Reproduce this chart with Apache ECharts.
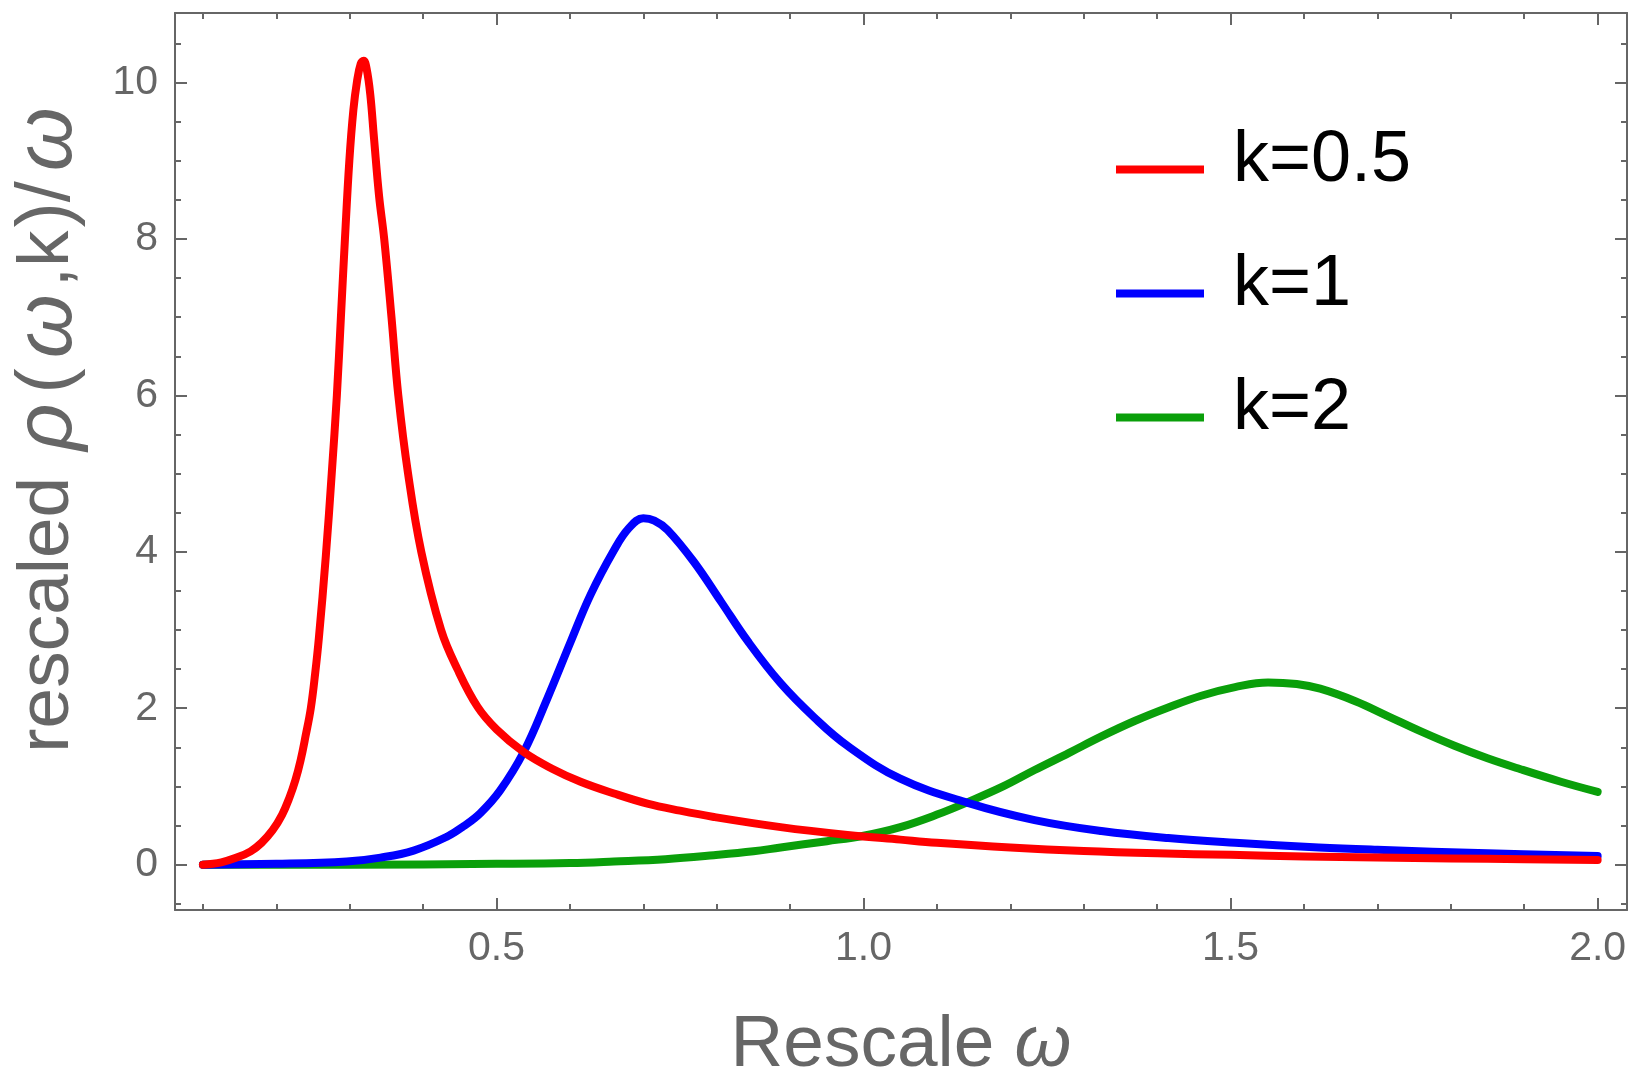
<!DOCTYPE html>
<html>
<head>
<meta charset="utf-8">
<script src="https://cdn.jsdelivr.net/npm/echarts@6/dist/echarts.min.js"></script>
<style>
html,body{margin:0;padding:0;background:#fff;}
#chart{width:1639px;height:1081px;}
</style>
</head>
<body>
<div id="chart"></div>
<script>
// ---- data ----
const seriesNames = ['k=0.5', 'k=1', 'k=2'];

const redX = [0.100,0.125,0.146,0.165,0.180,0.195,0.208,0.218,0.226,0.233,0.240,0.247,0.253,0.258,0.2675,0.2755,0.2825,0.288,0.2935,0.2995,0.305,0.310,0.315,0.319,0.323,0.328,0.333,0.340,0.347,0.3569,0.3662,0.3795,0.3975,0.4245,0.4467,0.474,0.500,0.537,0.575,0.6145,0.660,0.7055,0.750,0.796,0.887,0.978,1.050,1.100,1.200,1.300,1.400,1.500,1.600,1.700,1.800,1.900,2.000];
const redY = [0.00,0.03,0.09,0.17,0.28,0.44,0.64,0.86,1.08,1.33,1.65,2.00,2.45,2.90,3.95,5.00,6.00,7.00,8.00,9.00,9.65,10.02,10.24,10.28,10.18,9.85,9.30,8.55,8.00,7.00,6.00,5.00,4.00,3.00,2.50,2.02,1.73,1.44,1.23,1.06,0.91,0.78,0.69,0.61,0.48,0.38,0.32,0.28,0.22,0.175,0.145,0.125,0.105,0.090,0.080,0.070,0.060];

const blueX = [0.100,0.200,0.296,0.342,0.387,0.433,0.455,0.478,0.505,0.537,0.569,0.601,0.628,0.660,0.680,0.700,0.715,0.733,0.769,0.806,0.842,0.887,0.933,0.978,1.050,1.142,1.233,1.324,1.415,1.506,1.620,1.700,1.850,2.000];
const blueY = [0.00,0.01,0.04,0.09,0.18,0.36,0.49,0.66,0.95,1.44,2.12,2.85,3.45,4.02,4.30,4.43,4.40,4.28,3.87,3.36,2.86,2.32,1.88,1.52,1.10,0.79,0.57,0.43,0.34,0.28,0.22,0.19,0.145,0.11];

const greenX = [0.100,0.300,0.500,0.600,0.660,0.730,0.796,0.850,0.887,0.950,1.000,1.050,1.100,1.142,1.190,1.233,1.280,1.324,1.370,1.415,1.460,1.506,1.551,1.590,1.622,1.670,1.714,1.760,1.805,1.850,1.895,1.950,2.000];
const greenY = [0.00,0.00,0.01,0.02,0.04,0.07,0.12,0.17,0.22,0.30,0.37,0.48,0.64,0.80,1.00,1.21,1.43,1.64,1.84,2.01,2.16,2.27,2.33,2.31,2.25,2.09,1.90,1.70,1.52,1.36,1.22,1.06,0.93];

const xMajorTicks = [0.5, 1.0, 1.5, 2.0];
const xMinorTicks = [0.1,0.2,0.3,0.4,0.6,0.7,0.8,0.9,1.1,1.2,1.3,1.4,1.6,1.7,1.8,1.9];
const yMajorTicks = [0, 2, 4, 6, 8, 10];
const yMinorTicks = [-0.5,0.5,1,1.5,2.5,3,3.5,4.5,5,5.5,6.5,7,7.5,8.5,9,9.5,10.5];

const colors = ['#ff0000', '#0000ff', '#0a9f0a'];

// ---- chart ----
const pair = (xs, ys) => xs.map((x, i) => [x, ys[i]]);
const FONT = '"Liberation Sans", Arial, sans-serif';
const GRAY = '#666666';
const X_MIN = 0.062, X_MAX = 2.04, Y_MIN = -0.58, Y_MAX = 10.89;
const gridPos = {left: 175, right: 12, top: 13, bottom: 171, containLabel: false, outerBoundsMode: 'none'};

function xAx(grid, pos, ticks, len, showLine, labels, extra) {
  return Object.assign({
    type: 'value', gridIndex: grid, position: pos, min: X_MIN, max: X_MAX,
    axisLine: {show: showLine, onZero: false, lineStyle: {color: GRAY, width: 2}},
    axisTick: {show: true, inside: true, length: len, customValues: ticks, lineStyle: {color: GRAY, width: 2}},
    axisLabel: labels ? {show: true, customValues: xMajorTicks, formatter: v => v.toFixed(1),
      fontSize: 41, color: GRAY, margin: 18, fontFamily: FONT} : {show: false},
    splitLine: {show: false}
  }, extra || {});
}
function yAx(grid, pos, ticks, len, showLine, labels, extra) {
  return Object.assign({
    type: 'value', gridIndex: grid, position: pos, min: Y_MIN, max: Y_MAX,
    axisLine: {show: showLine, onZero: false, lineStyle: {color: GRAY, width: 2}},
    axisTick: {show: true, inside: true, length: len, customValues: ticks, lineStyle: {color: GRAY, width: 2}},
    axisLabel: labels ? {show: true, customValues: yMajorTicks, formatter: v => String(v),
      fontSize: 41, color: GRAY, margin: 17, fontFamily: FONT} : {show: false},
    splitLine: {show: false}
  }, extra || {});
}

const option = {
  animation: false,
  backgroundColor: '#ffffff',
  grid: [Object.assign({}, gridPos), Object.assign({}, gridPos)],
  xAxis: [
    xAx(0, 'bottom', xMajorTicks, 12, true, true, {
      name: '{a|Rescale }{b|ω}', nameLocation: 'middle', nameGap: 99,
      nameTextStyle: {fontSize: 73, color: GRAY, fontFamily: FONT,
        rich: {a: {fontSize: 73, color: GRAY, fontFamily: FONT},
               b: {fontSize: 73, color: GRAY, fontFamily: FONT, fontStyle: 'italic'}}}
    }),
    xAx(0, 'top', xMajorTicks, 12, true, false),
    xAx(1, 'bottom', xMinorTicks, 6, false, false),
    xAx(1, 'top', xMinorTicks, 6, false, false)
  ],
  yAxis: [
    yAx(0, 'left', yMajorTicks, 12, true, true, {
      name: '{a|rescaled }{b|ρ}{p|(}{b|ω}{a|,k}{p|)/}{b|ω}', nameLocation: 'middle', nameRotate: 90, nameGap: 86,
      nameTextStyle: {fontSize: 73, color: GRAY, fontFamily: FONT, padding: [0, 0, 0, 70],
        rich: {a: {fontSize: 73, color: GRAY, fontFamily: FONT},
               p: {fontSize: 76, color: GRAY, fontFamily: FONT, padding: [0, 4, 0, 3]},
               b: {fontSize: 82, color: GRAY, fontFamily: FONT, fontStyle: 'italic', padding: [0, 7, 0, 6]}}}
    }),
    yAx(0, 'right', yMajorTicks, 12, true, false),
    yAx(1, 'left', yMinorTicks, 6, false, false),
    yAx(1, 'right', yMinorTicks, 6, false, false)
  ],
  legend: {
    data: seriesNames,
    orient: 'vertical',
    left: 1111, top: 120,
    itemWidth: 88, itemHeight: 25, itemGap: 52,
    icon: 'path://M0,0 L1,0 L0,0 Z M0,17 L88,17 L88,25 L0,25 Z',
    symbolKeepAspect: false,
    textStyle: {fontSize: 72, color: '#000000', fontFamily: FONT, padding: [0, 0, 0, 24]}
  },
  series: [
    {name: seriesNames[0], data: pair(redX, redY)},
    {name: seriesNames[1], data: pair(blueX, blueY)},
    {name: seriesNames[2], data: pair(greenX, greenY)}
  ].map((s, i) => Object.assign(s, {
    type: 'line', xAxisIndex: 0, yAxisIndex: 0, showSymbol: false, symbol: 'none',
    smooth: 0.4, clip: true,
    color: colors[i],
    lineStyle: {color: colors[i], width: 8, cap: 'round', join: 'round'},
    z: 3 + (2 - i)
  }))
};

const chart = echarts.init(document.getElementById('chart'), null, {renderer: 'canvas'});
chart.setOption(option);
</script>
</body>
</html>
